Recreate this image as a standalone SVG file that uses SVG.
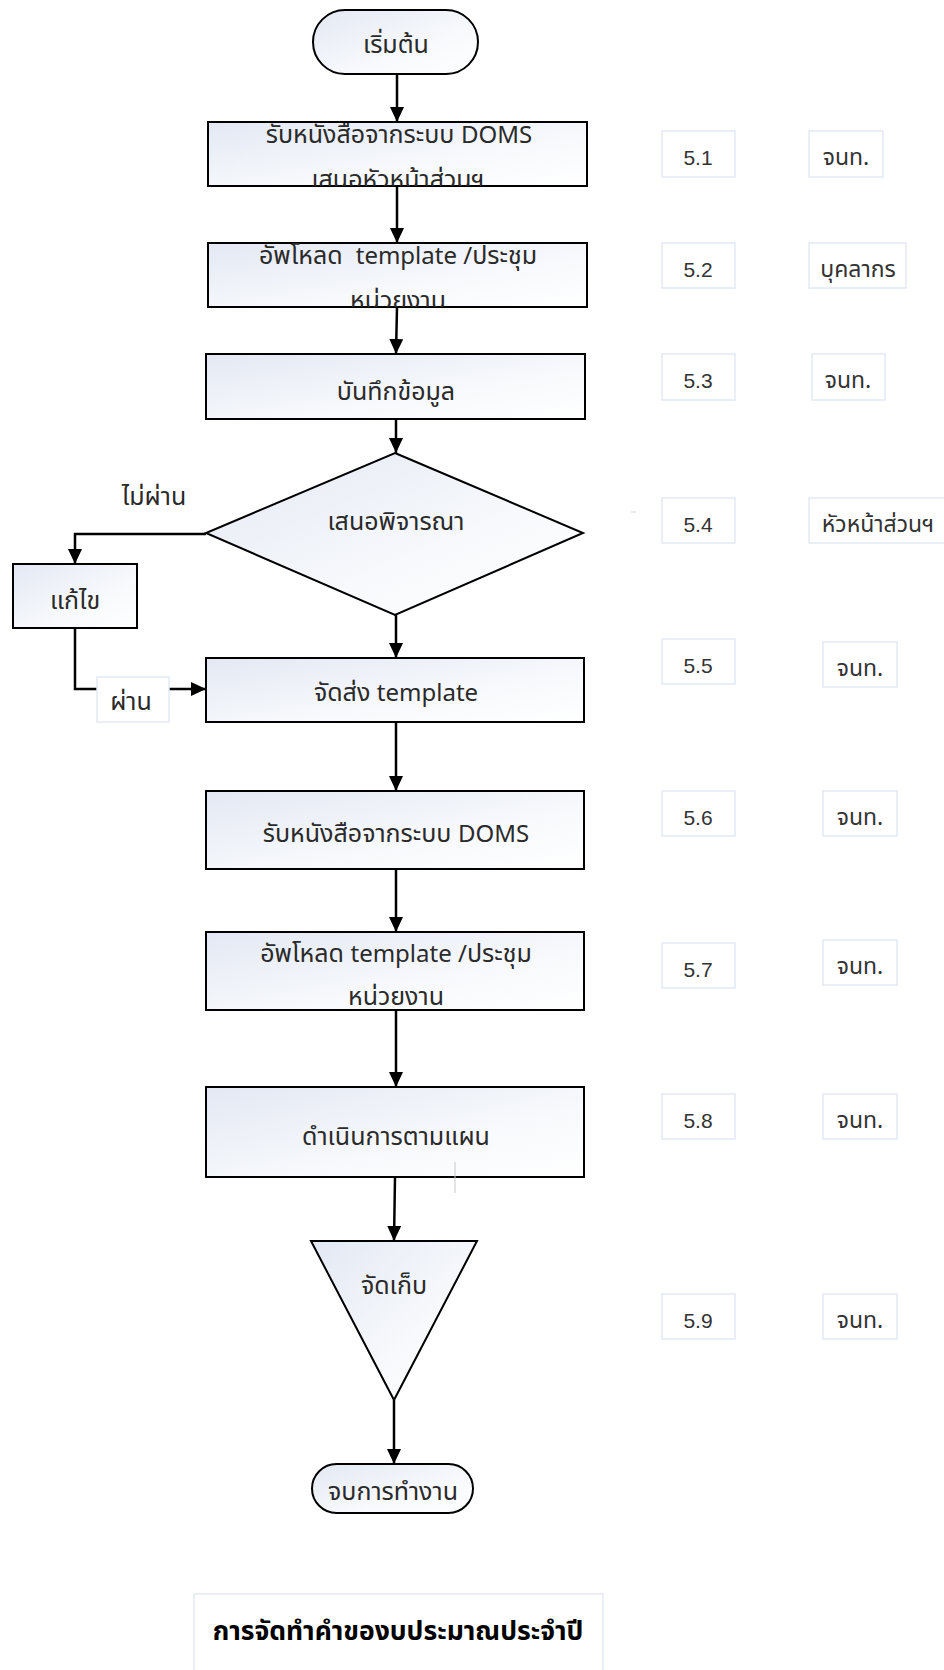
<svg xmlns="http://www.w3.org/2000/svg" width="944" height="1670" viewBox="0 0 944 1670">
<defs>
<linearGradient id="g" x1="0" y1="0" x2="1" y2="1">
<stop offset="0" stop-color="#e3e8f3"/>
<stop offset="0.6" stop-color="#f7f9fc"/>
<stop offset="1" stop-color="#ffffff"/>
</linearGradient>
<marker id="ah" markerUnits="userSpaceOnUse" markerWidth="15" markerHeight="14" refX="15" refY="7" orient="auto">
<path d="M0,0 L15,7 L0,14 z" fill="#000"/>
</marker>
<clipPath id="c1"><rect x="208" y="122" width="379" height="64"/></clipPath>
<clipPath id="c2"><rect x="208" y="243" width="379" height="64"/></clipPath>
</defs>
<style>
.shape{fill:url(#g);stroke:#000;stroke-width:2}
.t{font-family:"Noto Sans","Noto Sans Thai","DejaVu Sans",sans-serif;font-size:25px;fill:#2a2a2a;text-anchor:middle}
.la{font-size:24px}
.lbl{fill:#fff;stroke:#e3e9f4;stroke-width:1.5}
.ln{font-family:"Liberation Sans","Noto Sans",sans-serif;font-size:21px;fill:#333;text-anchor:middle}
.lth{font-family:"Noto Sans","Noto Sans Thai",sans-serif;font-size:23px;fill:#333;text-anchor:middle}
.con{fill:none;stroke:#000;stroke-width:2.5}
.title{font-family:"Noto Sans","Noto Sans Thai","DejaVu Sans",sans-serif;font-size:26.5px;font-weight:bold;fill:#000;text-anchor:middle}
</style>
<rect width="944" height="1670" fill="#fff"/>

<g id="connectors">
<path class="con" d="M397,74 L397,122" marker-end="url(#ah)"/>
<path class="con" d="M397,186 L397,243" marker-end="url(#ah)"/>
<path class="con" d="M397,307 L396,354" marker-end="url(#ah)"/>
<path class="con" d="M396,419 L396,453" marker-end="url(#ah)"/>
<path class="con" d="M396,615 L396,658" marker-end="url(#ah)"/>
<path class="con" d="M206,534 L75,534 L75,564" marker-end="url(#ah)"/>
<path class="con" d="M75,628 L75,689 L206,689" marker-end="url(#ah)"/>
<path class="con" d="M396,722 L396,791" marker-end="url(#ah)"/>
<path class="con" d="M396,869 L396,932" marker-end="url(#ah)"/>
<path class="con" d="M396,1010 L396,1087" marker-end="url(#ah)"/>
<path class="con" d="M395,1177 L394,1241" marker-end="url(#ah)"/>
<path class="con" d="M394,1400 L394,1464" marker-end="url(#ah)"/>
</g>

<g id="start">
<rect class="shape" x="313" y="10" width="165" height="64" rx="32"/>
<text class="t" x="396" y="53">เริ่มต้น</text>
</g>

<g id="step1">
<rect class="shape" x="208" y="122" width="379" height="64"/>
<g clip-path="url(#c1)">
<text class="t" x="399" y="143">รับหนังสือจากระบบ <tspan class="la">DOMS</tspan></text>
<text class="t" x="398" y="188">เสนอหัวหน้าส่วนฯ</text>
</g>
</g>

<g id="step2">
<rect class="shape" x="208" y="243" width="379" height="64"/>
<g clip-path="url(#c2)">
<text class="t" x="398" y="264" xml:space="preserve">อัพโหลด  <tspan class="la">template /</tspan>ประชุม</text>
<text class="t" x="398" y="309">หน่วยงาน</text>
</g>
</g>

<g id="step3">
<rect class="shape" x="206" y="354" width="379" height="65"/>
<text class="t" x="396" y="400">บันทึกข้อมูล</text>
</g>

<g id="decision">
<polygon class="shape" points="395,453 583,533 395,615 206,533"/>
<text class="t" x="396" y="530">เสนอพิจารณา</text>
</g>

<g id="label-fail">
<text class="t" x="154" y="505">ไม่ผ่าน</text>
</g>

<g id="fix">
<rect class="shape" x="13" y="564" width="124" height="64"/>
<text class="t" x="75" y="609">แก้ไข</text>
</g>

<g id="label-pass">
<rect class="lbl" x="97" y="677" width="72" height="45"/>
<text class="t" x="131" y="710">ผ่าน</text>
</g>

<g id="step5">
<rect class="shape" x="206" y="658" width="378" height="64"/>
<text class="t" x="396" y="701">จัดส่ง <tspan class="la">template</tspan></text>
</g>

<g id="step6">
<rect class="shape" x="206" y="791" width="378" height="78"/>
<text class="t" x="396" y="842">รับหนังสือจากระบบ <tspan class="la">DOMS</tspan></text>
</g>

<g id="step7">
<rect class="shape" x="206" y="932" width="378" height="78"/>
<text class="t" x="396" y="962">อัพโหลด <tspan class="la">template /</tspan>ประชุม</text>
<text class="t" x="396" y="1005">หน่วยงาน</text>
</g>

<g id="step8">
<rect class="shape" x="206" y="1087" width="378" height="90"/>
<text class="t" x="396" y="1145">ดำเนินการตามแผน</text>
<line x1="455" y1="1162" x2="455" y2="1193" stroke="#c8c8c8" stroke-width="1"/>
</g>

<g id="store">
<polygon class="shape" points="311,1241 477,1241 394,1400"/>
<text class="t" x="394" y="1294">จัดเก็บ</text>
</g>

<g id="end">
<rect class="shape" x="312" y="1464" width="161" height="49" rx="24.5"/>
<text class="t" x="393" y="1500">จบการทำงาน</text>
</g>

<g id="refs">
<line x1="631" y1="512" x2="636" y2="512" stroke="#d8d8d8" stroke-width="1"/>
<g id="r51"><rect class="lbl" x="662" y="131" width="73" height="46"/><text class="ln" x="698" y="165">5.1</text></g>
<g id="p51"><rect class="lbl" x="809" y="131" width="74" height="46"/><text class="lth" x="846" y="165">จนท.</text></g>
<g id="r52"><rect class="lbl" x="662" y="243" width="73" height="45"/><text class="ln" x="698" y="277">5.2</text></g>
<g id="p52"><rect class="lbl" x="809" y="243" width="97" height="45"/><text class="lth" x="858" y="277">บุคลากร</text></g>
<g id="r53"><rect class="lbl" x="662" y="354" width="73" height="46"/><text class="ln" x="698" y="388">5.3</text></g>
<g id="p53"><rect class="lbl" x="812" y="354" width="73" height="46"/><text class="lth" x="848" y="388">จนท.</text></g>
<g id="r54"><rect class="lbl" x="662" y="498" width="73" height="45"/><text class="ln" x="698" y="532">5.4</text></g>
<g id="p54"><rect class="lbl" x="809" y="498" width="145" height="45"/><text class="lth" x="878" y="532">หัวหน้าส่วนฯ</text></g>
<g id="r55"><rect class="lbl" x="662" y="639" width="73" height="45"/><text class="ln" x="698" y="673">5.5</text></g>
<g id="p55"><rect class="lbl" x="823" y="642" width="74" height="45"/><text class="lth" x="860" y="676">จนท.</text></g>
<g id="r56"><rect class="lbl" x="662" y="791" width="73" height="45"/><text class="ln" x="698" y="825">5.6</text></g>
<g id="p56"><rect class="lbl" x="823" y="791" width="74" height="45"/><text class="lth" x="860" y="825">จนท.</text></g>
<g id="r57"><rect class="lbl" x="662" y="943" width="73" height="45"/><text class="ln" x="698" y="977">5.7</text></g>
<g id="p57"><rect class="lbl" x="823" y="940" width="74" height="45"/><text class="lth" x="860" y="974">จนท.</text></g>
<g id="r58"><rect class="lbl" x="662" y="1094" width="73" height="45"/><text class="ln" x="698" y="1128">5.8</text></g>
<g id="p58"><rect class="lbl" x="823" y="1094" width="74" height="45"/><text class="lth" x="860" y="1128">จนท.</text></g>
<g id="r59"><rect class="lbl" x="662" y="1294" width="73" height="45"/><text class="ln" x="698" y="1328">5.9</text></g>
<g id="p59"><rect class="lbl" x="823" y="1294" width="74" height="45"/><text class="lth" x="860" y="1328">จนท.</text></g>
</g>

<g id="title">
<rect class="lbl" x="194" y="1594" width="409" height="80"/>
<text class="title" x="398" y="1640">การจัดทำคำของบประมาณประจำปี</text>
</g>
</svg>
